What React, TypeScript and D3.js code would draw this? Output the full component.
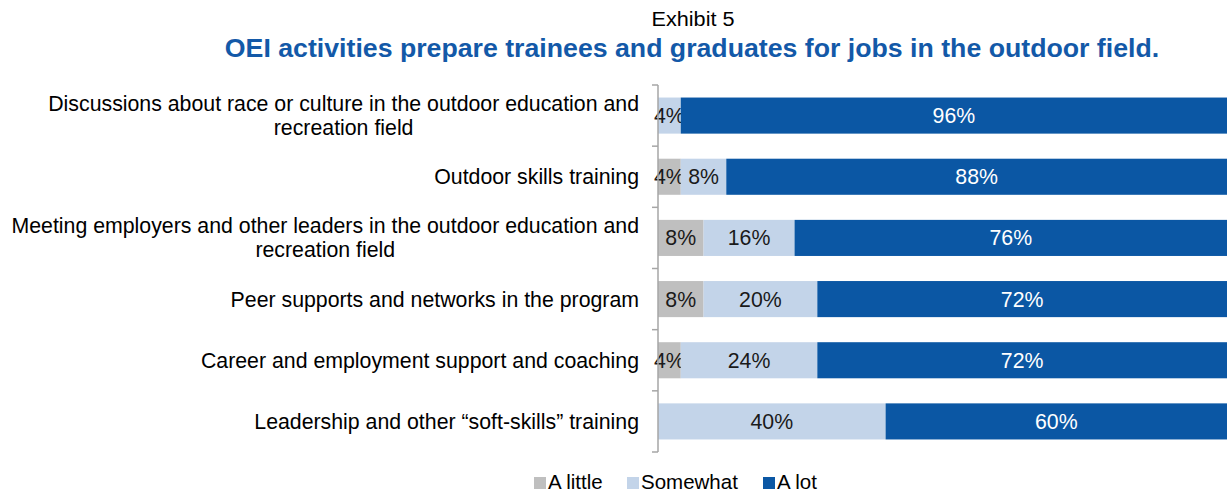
import React, { useRef, useLayoutEffect, useState } from 'react';
import * as d3 from 'd3';

const categories = [
  ['Discussions about race or culture in the outdoor education and', 'recreation field'],
  ['Outdoor skills training'],
  ['Meeting employers and other leaders in the outdoor education and', 'recreation field'],
  ['Peer supports and networks in the program'],
  ['Career and employment support and coaching'],
  ['Leadership and other \u201csoft-skills\u201d training'],
];
const aLittle = [0, 4, 8, 8, 4, 0];
const somewhat = [4, 8, 16, 20, 24, 40];
const aLot = [96, 88, 76, 72, 72, 60];
const seriesNames = ['A little', 'Somewhat', 'A lot'];

const colors = ['#BFBFBF', '#C3D4E9', '#0B57A4'];
const labelColors = ['#1a1a1a', '#1a1a1a', '#fff'];
const font = '"Liberation Sans", Arial, sans-serif';

const W = 1227;
const H = 493;
const left = 658;
const right = 1227;
const top = 85;
const bottom = 452;
const labelX = 639;
const fs = 21.3;

const App = () => {
  const svgRef = useRef<SVGSVGElement | null>(null);
  const [widths, setWidths] = useState<number[]>(categories.map(() => 0));

  // measure first line of each label so the wrapped line can be centred under it
  useLayoutEffect(() => {
    const svg = d3.select(svgRef.current);
    const w: number[] = [];
    svg.selectAll<SVGTSpanElement, unknown>('tspan.first').each(function () {
      w.push(this.getComputedTextLength());
    });
    setWidths(w);
  }, []);

  const ids = categories.map((_, i) => String(i));
  const y = d3.scaleBand().domain(ids).range([top, bottom]).paddingInner(0.41).paddingOuter(0.205);
  const band = d3.scaleBand().domain(ids).range([top, bottom]);
  const x = d3.scaleLinear().domain([0, 100]).range([left, right]);

  const rows = categories.map((c, i) => ({ id: String(i), little: aLittle[i], some: somewhat[i], lot: aLot[i] }));
  const stack = d3.stack<any>().keys(['little', 'some', 'lot'])(rows);

  return (
    <svg ref={svgRef} width={W} height={H} style={{ position: 'absolute', left: 0, top: 0 }} fontFamily={font}>
      <text x={693} y={26} textAnchor="middle" fontSize={20} fill="#000" textLength={83} lengthAdjust="spacingAndGlyphs">Exhibit 5</text>
      <text x={692} y={57} textAnchor="middle" fontSize={26.7} fontWeight="bold" fill="#1359A8">
        OEI activities prepare trainees and graduates for jobs in the outdoor field.
      </text>

      {stack.map((s, si) => (
        <g key={si}>
          {s.map((d, i) => {
            const w = x(d[1]) - x(d[0]);
            if (w <= 0) return null;
            const yy = y(ids[i])!;
            return (
              <g key={i}>
                <rect x={x(d[0])} y={yy} width={w} height={y.bandwidth()} fill={colors[si]} />
                <text x={(x(d[0]) + x(d[1])) / 2} y={yy + y.bandwidth() / 2 + 7.5} textAnchor="middle"
                  fontSize={fs} fill={labelColors[si]}>{`${d[1] - d[0]}%`}</text>
              </g>
            );
          })}
        </g>
      ))}

      <g stroke="#A6A6A6" strokeWidth={1.5} fill="none">
        <line x1={left} x2={left} y1={top} y2={bottom} />
        {[...ids.map(id => band(id)!), bottom].map((v, i) => (
          <line key={i} x1={left - 6} x2={left} y1={v} y2={v} />
        ))}
      </g>

      {categories.map((lines, i) => {
        const cy = y(ids[i])! + y.bandwidth() / 2;
        const lh = 24;
        const y0 = cy - ((lines.length - 1) * lh) / 2 + 7.5;
        const mid = labelX - widths[i] / 2;
        return (
          <text key={i} fontSize={fs} fill="#000">
            {lines.map((l, j) => (
              <tspan key={j} className={j === 0 ? 'first' : 'rest'}
                x={j === 0 ? labelX : mid} y={y0 + j * lh}
                textAnchor={j === 0 ? 'end' : 'middle'}>{l}</tspan>
            ))}
          </text>
        );
      })}

      {[534, 627, 763].map((px, i) => (
        <g key={i}>
          <rect x={px} y={477} width={12} height={12} fill={colors[i]} />
          <text x={px + 14} y={489} fontSize={20.5} fill="#000">{seriesNames[i]}</text>
        </g>
      ))}
    </svg>
  );
};

export default App;
